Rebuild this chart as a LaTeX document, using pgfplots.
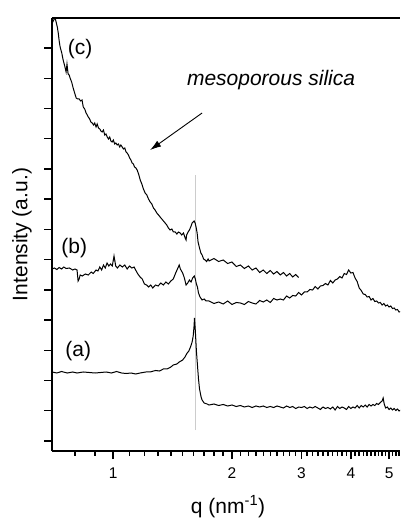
\documentclass[border=0pt]{standalone}
\usepackage{fontspec}
\setmainfont{Liberation Sans}
\usepackage{pgfplots}
\pgfplotsset{compat=1.18}
\usetikzlibrary{arrows.meta}
\begin{document}
\begin{tikzpicture}
\begin{axis}[
  scale only axis, width=348pt, height=433pt,
  xmode=log, xmin=0.7, xmax=5.3285, ymin=0, ymax=433,
  axis x line=box, axis y line=left,
  axis line style={line width=1.8pt,-},
  tick align=outside, xtick pos=bottom, ytick pos=left,
  major tick length=8pt, minor tick length=4.5pt,
  tick style={line width=1.4pt, black},
  xtick={1,2,3,4,5}, xticklabels={1,2,3,4,5},
  minor xtick={0.8,0.9,1.1,1.2,1.3,1.4,1.5,1.6,1.7,1.8,1.9,2.1,2.2,2.3,2.4,2.5,2.6,2.7,2.8,2.9,3.1,3.2,3.3,3.4,3.5,3.6,3.7,3.8,3.9,4.1,4.2,4.3,4.4,4.5,4.6,4.7,4.8,4.9,5.1,5.2,5.3},
  ytick={10,40.23,70.46,100.69,130.92,161.15,191.38,221.61,251.84,282.07,312.3,342.53,372.76,403},
  yticklabels={},
  xticklabel style={font=\fontsize{15.5}{18}\selectfont, anchor=center, yshift=-14pt},
]
\coordinate (LL) at (rel axis cs:0,0);
\coordinate (UR) at (rel axis cs:1,1);
\coordinate (XL) at (rel axis cs:0.506,0);
\coordinate (YL) at (rel axis cs:0,0.5);
% reference line
\addplot[gray!40, line width=0.9pt] coordinates {(1.6155,21) (1.6155,276)};
% (a)
\addplot[black, line width=1pt] coordinates {
(0.701,79) (0.72,78) (0.74,79.5) (0.765,78) (0.79,79) (0.81,78) (0.84,79) (0.87,78.5) (0.90,78) (0.93,78.5) (0.96,79) (0.99,78) (1.02,79.5) (1.05,78) (1.08,77.5) (1.11,78) (1.14,77) (1.17,78) (1.21,79) (1.24,79) (1.28,80.5) (1.31,80) (1.34,82) (1.37,82) (1.40,84) (1.42,86) (1.45,87) (1.47,89) (1.50,91) (1.52,94) (1.54,98) (1.555,100) (1.57,104) (1.585,109) (1.595,115) (1.603,125) (1.607,133) (1.615,120) (1.625,100) (1.635,86) (1.645,72) (1.655,62) (1.67,54) (1.68,51) (1.70,48) (1.73,47)
(1.75,46) (1.80,47) (1.85,45.5) (1.90,46.5) (1.95,45) (2.00,46) (2.05,44.5) (2.10,45.5) (2.15,44) (2.20,45) (2.25,43.5) (2.30,45) (2.35,44) (2.40,45) (2.45,43.5) (2.50,44.5) (2.55,43.5) (2.60,45) (2.65,44) (2.70,43) (2.75,45) (2.80,43.5) (2.85,44.5) (2.90,42.5) (2.95,44) (3.00,43.5) (3.05,44.5) (3.10,42.5) (3.15,44) (3.20,43) (3.25,44.5) (3.30,43) (3.35,41.5) (3.40,44) (3.45,42.5) (3.50,43.5) (3.55,42) (3.60,44) (3.65,41) (3.70,44.5) (3.75,42.5) (3.80,44) (3.85,43) (3.90,41.5) (3.95,44.5) (4.00,42.5) (4.05,44) (4.10,43) (4.15,45.5) (4.20,43) (4.25,45.5) (4.30,44) (4.35,46) (4.40,44) (4.45,46.5) (4.50,45) (4.55,46.5) (4.60,45.5) (4.65,47.5) (4.70,46.5) (4.75,48.5) (4.80,50) (4.83,53) (4.86,47) (4.90,43) (4.95,44) (5.00,41.5) (5.05,43) (5.10,41) (5.15,42.5) (5.20,40.5) (5.25,42) (5.30,40) (5.35,41)
};
% (b)
\addplot[black, line width=1pt] coordinates {
(0.701,182) (0.71,183) (0.72,181.5) (0.73,183.5) (0.74,182) (0.75,184) (0.76,182.5) (0.775,183) (0.79,181) (0.80,182) (0.81,181) (0.815,170) (0.82,172) (0.825,176) (0.835,175) (0.85,177) (0.865,176) (0.88,179) (0.89,177.5) (0.905,181) (0.915,180) (0.925,184) (0.935,181) (0.945,186) (0.955,183) (0.965,188) (0.975,185) (0.985,187) (0.995,185) (1.005,195) (1.015,185) (1.025,183) (1.04,186) (1.055,184) (1.07,186) (1.085,182) (1.10,185) (1.115,183) (1.13,184) (1.14,181) (1.155,177) (1.17,174) (1.185,172) (1.20,167) (1.215,166) (1.23,164) (1.245,166) (1.26,163) (1.28,166) (1.30,165) (1.32,168) (1.34,166) (1.36,169) (1.38,167) (1.40,170) (1.42,172) (1.44,178) (1.455,182) (1.47,186) (1.48,182) (1.49,180) (1.50,178) (1.515,173) (1.53,166) (1.545,168) (1.56,171) (1.575,169) (1.59,173) (1.605,175) (1.615,172) (1.625,167) (1.635,164) (1.645,158) (1.66,154) (1.68,151) (1.70,152) (1.72,150)
(1.75,150) (1.80,147.5) (1.85,149) (1.90,147) (1.95,150) (2.00,146.5) (2.05,148.5) (2.10,148) (2.15,146.5) (2.20,149.5) (2.25,148) (2.30,147) (2.35,150.5) (2.40,149) (2.45,151) (2.50,148.5) (2.55,152.5) (2.60,151) (2.65,152) (2.70,151) (2.75,155) (2.80,153) (2.85,155.5) (2.90,155) (2.95,158.5) (3.00,156) (3.05,159) (3.10,159) (3.15,161.5) (3.20,161) (3.25,164.5) (3.30,162) (3.35,165) (3.40,165.5) (3.45,167.5) (3.50,166) (3.55,170.5) (3.60,168) (3.65,171) (3.70,172) (3.75,174.5) (3.80,173) (3.85,177.5) (3.90,176.5) (3.95,181) (4.00,178) (4.05,178.5) (4.10,173) (4.15,169.5) (4.20,163) (4.25,160.5) (4.30,157) (4.35,156.5) (4.40,154) (4.45,154.5) (4.50,151) (4.55,152.5) (4.60,149.5) (4.65,150) (4.70,148) (4.75,148.5) (4.80,146) (4.85,147.5) (4.90,145) (4.95,146) (5.00,144) (5.05,145) (5.10,142.5) (5.15,143) (5.20,141) (5.25,141.5) (5.30,139) (5.35,139.5)
};
% (c)
\addplot[black, line width=1pt] coordinates {
(0.701,428) (0.707,431) (0.713,433) (0.718,428) (0.722,424) (0.726,418) (0.730,410) (0.734,404) (0.741,398) (0.747,391) (0.754,385) (0.760,379) (0.764,387) (0.769,377) (0.774,376) (0.778,373) (0.785,369) (0.792,363) (0.799,358) (0.806,353) (0.813,352) (0.820,352) (0.827,350) (0.834,351) (0.840,344) (0.847,342) (0.854,338) (0.860,336) (0.865,334) (0.872,332) (0.878,329) (0.885,328) (0.892,326) (0.898,328) (0.905,324) (0.911,327) (0.918,323) (0.925,322) (0.931,320) (0.938,319) (0.945,321) (0.952,316) (0.959,317) (0.966,314) (0.973,312) (0.980,314) (0.987,310) (0.994,309) (1.001,311) (1.009,307) (1.016,308) (1.024,306) (1.031,307) (1.039,304) (1.046,306) (1.054,304) (1.062,302) (1.070,303) (1.078,299) (1.085,298) (1.093,296) (1.101,293) (1.109,291) (1.117,288) (1.125,287) (1.133,284) (1.142,283) (1.150,281) (1.160,277) (1.171,271) (1.182,267) (1.193,262) (1.205,258) (1.217,256) (1.229,252) (1.241,249) (1.253,247) (1.265,243) (1.277,241) (1.29,238) (1.303,236) (1.315,234) (1.328,232) (1.341,230) (1.354,228) (1.367,226) (1.380,223) (1.394,221) (1.408,222) (1.421,219) (1.436,219) (1.45,217) (1.464,219) (1.478,218) (1.492,216) (1.507,218) (1.522,213) (1.53,211) (1.535,216) (1.548,219) (1.56,221) (1.572,224) (1.585,228) (1.595,229) (1.604,230) (1.613,228) (1.622,224) (1.632,218) (1.641,209) (1.655,203) (1.668,198) (1.680,196) (1.695,192) (1.710,191) (1.725,189.5) (1.74,192)
(1.75,190) (1.80,192.5) (1.85,189.5) (1.90,191) (1.95,187.5) (2.00,189) (2.05,184.5) (2.10,186) (2.15,182.5) (2.20,185) (2.25,181) (2.30,183) (2.35,178.5) (2.40,181) (2.45,177.5) (2.50,180.5) (2.55,177) (2.60,179.5) (2.65,176) (2.70,178.5) (2.75,175) (2.80,177.5) (2.85,174) (2.90,176.5) (2.95,173.5)
};
\draw[line width=0.9pt, -{Latex[length=11pt,width=7pt]}] (axis cs:1.6802,338) -- (axis cs:1.2407,301);
\node[font=\fontsize{21}{25}\selectfont] at (axis cs:0.8249,402) {(c)};
\node[font=\fontsize{21}{25}\selectfont] at (axis cs:0.7968,203) {(b)};
\node[font=\fontsize{21}{25}\selectfont] at (axis cs:0.8155,100) {(a)};
\node[font=\fontsize{21}{25}\selectfont\itshape] at (axis cs:2.512,371) {mesoporous silica};
\end{axis}
\node[anchor=base, font=\fontsize{21}{25}\selectfont, inner sep=0pt] at ([yshift=-62pt]XL) {q (nm\textsuperscript{-1})};
\node[anchor=center, rotate=90, font=\fontsize{21}{25}\selectfont, inner sep=0pt] at ([xshift=-30pt]YL) {Intensity (a.u.)};
\pgfresetboundingbox
\path ([shift={(-52pt,-69pt)}]LL) rectangle ([shift={(0pt,18pt)}]UR);
\end{tikzpicture}
\end{document}
